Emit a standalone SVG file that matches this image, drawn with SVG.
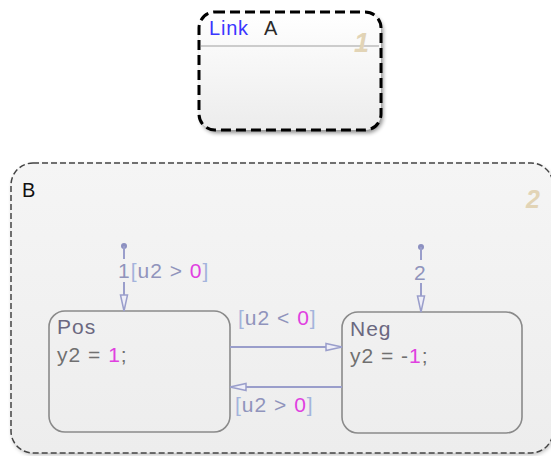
<svg xmlns="http://www.w3.org/2000/svg" width="551" height="456" viewBox="0 0 551 456">
<defs>
<linearGradient id="gA" x1="0" y1="0" x2="0" y2="1"><stop offset="0" stop-color="#ffffff"/><stop offset="1" stop-color="#ececec"/></linearGradient>
<linearGradient id="gB" x1="0" y1="0" x2="0" y2="1"><stop offset="0" stop-color="#f5f5f5"/><stop offset="1" stop-color="#ededed"/></linearGradient>
<filter id="sh" x="-10%" y="-10%" width="120%" height="120%"><feGaussianBlur stdDeviation="2"/></filter>
<marker id="ah" viewBox="0 0 18 10" refX="17" refY="5" markerWidth="18" markerHeight="10" markerUnits="userSpaceOnUse" orient="auto"><path d="M1,1.5 L17,5 L1,8.5 Z" fill="#eeeef8" stroke="#9a9ecb" stroke-width="1.5"/></marker>
<marker id="av" viewBox="0 0 10 18" refX="5" refY="17" markerWidth="10" markerHeight="18" markerUnits="userSpaceOnUse" orient="0"><path d="M1.5,1 L5,17 L8.5,1 Z" fill="#eeeef8" stroke="#9a9ecb" stroke-width="1.5"/></marker>
</defs>
<style>
text{font-family:"Liberation Sans",Arial,sans-serif;}
.st{font-size:21px;letter-spacing:1px;fill:#6b6880;}
.code{fill:#707070;}
.num{fill:#e040e0;}
.lbl{font-size:21px;letter-spacing:1px;fill:#9094bc;}
.br{fill:#a4b4dc;}
.tr{stroke:#9a9ecb;stroke-width:2;fill:none;}
.state{fill:none;stroke:#8a8a8a;stroke-width:1.6;}
.chartno{font-weight:bold;font-style:italic;fill:#e2d4b6;}
</style>

<g id="linkA">
<rect x="201" y="15" width="182" height="118" rx="16" fill="#000" opacity="0.45" filter="url(#sh)"/>
<rect x="199" y="12" width="182" height="118" rx="16" fill="url(#gA)" stroke="#000" stroke-width="3" stroke-dasharray="10 5"/>
<line x1="201" y1="46" x2="379" y2="46" stroke="#bdbdbd" stroke-width="1.5"/>
<text x="209" y="35" style="font-size:20px;letter-spacing:0.8px" fill="#3a35ff">Link</text>
<text x="264" y="35" style="font-size:20px" fill="#2a2a2a">A</text>
<text x="354" y="52" class="chartno" style="font-size:27px">1</text>
</g>

<g id="B">
<rect x="12" y="165" width="542" height="290" rx="22" fill="#000" opacity="0.25" filter="url(#sh)"/>
<rect x="11" y="163" width="542" height="290" rx="22" fill="url(#gB)" stroke="#444" stroke-width="1.5" stroke-dasharray="6 3"/>
<text x="22" y="197" style="font-size:20px" fill="#111">B</text>
<text x="526" y="208" class="chartno" style="font-size:25px">2</text>
</g>

<g id="Pos">
<rect class="state" x="49" y="311" width="181" height="121" rx="16"/>
<text x="57" y="334" class="st">Pos</text>
<text x="57" y="362" class="st"><tspan class="code">y2 = </tspan><tspan class="num">1</tspan><tspan class="code">;</tspan></text>
</g>

<g id="Neg">
<rect class="state" x="342" y="312" width="180" height="121" rx="16"/>
<text x="350" y="336" class="st">Neg</text>
<text x="350" y="363" class="st"><tspan class="code">y2 = -</tspan><tspan class="num">1</tspan><tspan class="code">;</tspan></text>
</g>

<g id="connectors">
<circle cx="124" cy="246" r="3" fill="#8c90c0"/>
<line class="tr" x1="124" y1="246" x2="124" y2="259"/>
<line class="tr" x1="124" y1="282" x2="124" y2="311" marker-end="url(#av)"/>
<text x="118" y="278" class="lbl">1<tspan class="br">[</tspan>u2 &gt; <tspan class="num">0</tspan><tspan class="br">]</tspan></text>

<circle cx="421" cy="247" r="3" fill="#8c90c0"/>
<line class="tr" x1="421" y1="247" x2="421" y2="260"/>
<line class="tr" x1="421" y1="283" x2="421" y2="312" marker-end="url(#av)"/>
<text x="414" y="280" class="lbl">2</text>

<line class="tr" x1="230" y1="347" x2="342" y2="347" marker-end="url(#ah)"/>
<text x="238" y="325" class="lbl"><tspan class="br">[</tspan>u2 &lt; <tspan class="num">0</tspan><tspan class="br">]</tspan></text>

<line class="tr" x1="342" y1="387" x2="230" y2="387" marker-end="url(#ah)"/>
<text x="235" y="412" class="lbl"><tspan class="br">[</tspan>u2 &gt; <tspan class="num">0</tspan><tspan class="br">]</tspan></text>
</g>
</svg>
